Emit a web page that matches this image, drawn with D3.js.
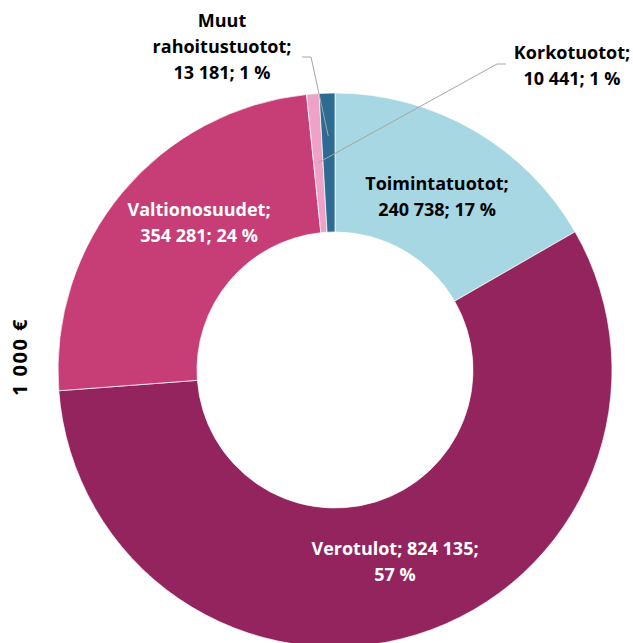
<!DOCTYPE html>
<html>
<head>
<meta charset="utf-8">
<script src="https://cdn.jsdelivr.net/npm/d3@7"></script>
<style>
  body { margin: 0; background: #fff; }
  text { font-family: "Open Sans", Lato, sans-serif; font-weight: bold; }
</style>
</head>
<body>
<svg width="633" height="643"></svg>
<script>
var categories = ["Toimintatuotot", "Verotulot", "Valtionosuudet", "Korkotuotot", "Muut rahoitustuotot"];
var values = [240738, 824135, 354281, 10441, 13181];
var valueLabels = ["240 738", "824 135", "354 281", "10 441", "13 181"];
var percentLabels = ["17 %", "57 %", "24 %", "1 %", "1 %"];
var colors = ["#a7d7e2", "#93245e", "#c73d76", "#eea2c5", "#2d6b92"];

var width = 633;
var height = 643;
var cx = 335;
var cy = 370;
var outerR = 277;
var innerR = 138;

var data = categories.map((c, i) => ({
  name: c, value: values[i], vLabel: valueLabels[i], pLabel: percentLabels[i], color: colors[i]
}));

var svg = d3.select("svg");

var pie = d3.pie().sort(null).value(d => d.value);
var arc = d3.arc().innerRadius(innerR).outerRadius(outerR);
var arcs = pie(data);

var g = svg.append("g").attr("transform", `translate(${cx},${cy})`);

g.selectAll("path")
  .data(arcs)
  .enter()
  .append("path")
    .attr("d", arc)
    .attr("fill", d => d.data.color)
    .attr("stroke", "#fff")
    .attr("stroke-width", 0.7);

// label lines: [line texts], x, y, colour, leader
var labels = [
  { lines: ["Toimintatuotot;", "240 738; 17 %"], x: 437, y: 190, fill: "#000" },
  { lines: ["Verotulot; 824 135;", "57 %"], x: 395, y: 555, fill: "#fff" },
  { lines: ["Valtionosuudet;", "354 281; 24 %"], x: 199, y: 216, fill: "#fff" },
  { lines: ["Korkotuotot;", "10 441; 1 %"], x: 572, y: 59, fill: "#000", leader: [506, 64, 497, 64], r: 208 },
  { lines: ["Muut", "rahoitustuotot;", "13 181; 1 %"], x: 222, y: 27, fill: "#000", leader: [302, 57, 311, 57], r: 234 }
];

// leader lines
labels.forEach((l, i) => {
  if (!l.leader) return;
  var a = (arcs[i].startAngle + arcs[i].endAngle) / 2;
  var ex = cx + l.r * Math.sin(a);
  var ey = cy - l.r * Math.cos(a);
  svg.append("polyline")
    .attr("points", [[l.leader[0], l.leader[1]], [l.leader[2], l.leader[3]], [ex, ey]].map(p => p.join(",")).join(" "))
    .attr("fill", "none")
    .attr("stroke", "#a6a6a6")
    .attr("stroke-width", 1);
});

labels.forEach(l => {
  var t = svg.append("text")
    .attr("x", l.x)
    .attr("y", l.y)
    .attr("text-anchor", "middle")
    .attr("fill", l.fill)
    .style("font-size", "18px");
  l.lines.forEach((s, j) => {
    t.append("tspan")
      .attr("x", l.x)
      .attr("dy", j === 0 ? 0 : 26)
      .text(s);
  });
});

// y-axis title
svg.append("text")
  .attr("transform", "rotate(-90)")
  .attr("x", -357)
  .attr("y", 27)
  .attr("text-anchor", "middle")
  .style("font-size", "20px")
  .style("letter-spacing", "1.5px")
  .text("1 000 €");
</script>
</body>
</html>
